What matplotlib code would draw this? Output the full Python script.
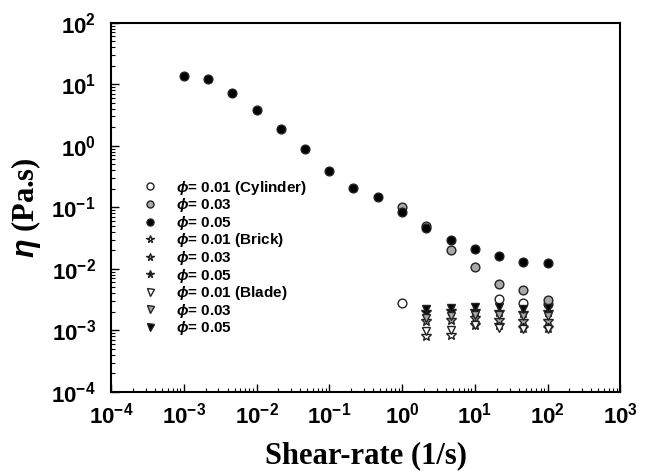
import numpy as np
import matplotlib
matplotlib.use("Agg")
import matplotlib.pyplot as plt
from matplotlib.ticker import FuncFormatter, LogLocator

plt.rcParams['font.family'] = ['Liberation Sans', 'DejaVu Sans']
plt.rcParams['mathtext.fontset'] = 'custom'
plt.rcParams['mathtext.rm'] = 'Liberation Sans:bold'
plt.rcParams['mathtext.bf'] = 'Liberation Sans:bold'
plt.rcParams['mathtext.it'] = 'Liberation Sans:italic:bold'
plt.rcParams['axes.unicode_minus'] = False

# shear rates (1/s)
rate_full = [1e-3, 2.15e-3, 4.64e-3, 1e-2, 2.15e-2, 4.64e-2, 0.1, 0.215, 0.464,
             1, 2.15, 4.64, 10, 21.5, 46.4, 100]
rate_hi = [2.15, 4.64, 10, 21.5, 46.4, 100]

# cylinder
cyl05 = [13.7, 12.3, 7.3, 3.85, 1.89, 0.89, 0.39, 0.21, 0.145,
         0.085, 0.047, 0.030, 0.021, 0.016, 0.013, 0.0123]
cyl03_rate = [1, 2.15, 4.64, 10, 21.5, 46.4, 100]
cyl03 = [0.10, 0.050, 0.0205, 0.0107, 0.0057, 0.0046, 0.0031]
cyl01_rate = [1, 21.5, 46.4, 100]
cyl01 = [0.0028, 0.0032, 0.0028, 0.0027]

# brick
brick01 = [0.00080, 0.00085, 0.0012, 0.0012, 0.0011, 0.0011]
brick03 = [0.0014, 0.0015, 0.0016, 0.0015, 0.0014, 0.0014]
brick05 = [0.0020, 0.0021, 0.0021, 0.0020, 0.0019, 0.0020]

# blade
blade01 = [0.00098, 0.0010, 0.0012, 0.0011, 0.00105, 0.00105]
blade03 = [0.0016, 0.0017, 0.0018, 0.0018, 0.0017, 0.0017]
blade05 = [0.0022, 0.0023, 0.0024, 0.0024, 0.0022, 0.0023]

white, grey, black = 'white', '#a8a8a8', 'black'
edge = '#222222'

series = [
    (cyl01_rate, cyl01, 'o', white, 6.3, '$\\phi$= 0.01 (Cylinder)'),
    (cyl03_rate, cyl03, 'o', grey, 6.3, '$\\phi$= 0.03'),
    (rate_full, cyl05, 'o', black, 6.3, '$\\phi$= 0.05'),
    (rate_hi, brick01, '*', white, 7, '$\\phi$= 0.01 (Brick)'),
    (rate_hi, brick03, '*', grey, 7, '$\\phi$= 0.03'),
    (rate_hi, brick05, '*', black, 7, '$\\phi$= 0.05'),
    (rate_hi, blade01, 'v', white, 6.3, '$\\phi$= 0.01 (Blade)'),
    (rate_hi, blade03, 'v', grey, 6.3, '$\\phi$= 0.03'),
    (rate_hi, blade05, 'v', black, 6.3, '$\\phi$= 0.05'),
]

fig = plt.figure(figsize=(6.53, 4.75), dpi=100)
ax = fig.add_axes([0.170, 0.175, 0.780, 0.777])

for x, y, m, fc, ms, lab in series:
    ax.plot(x, y, linestyle='none', marker=m, markerfacecolor=fc,
            markeredgecolor=edge, markeredgewidth=1.0, markersize=ms, label=lab)

ax.set_xscale('log')
ax.set_yscale('log')
ax.set_xlim(1e-4, 1e3)
ax.set_ylim(1e-4, 1e2)

fmt = FuncFormatter(lambda v, p: '$\\mathbf{10^{%d}}$' % int(round(np.log10(v))))
ax.xaxis.set_major_locator(LogLocator(base=10, numticks=20))
ax.yaxis.set_major_locator(LogLocator(base=10, numticks=20))
ax.xaxis.set_minor_locator(LogLocator(base=10, subs=np.arange(2, 10), numticks=20))
ax.yaxis.set_minor_locator(LogLocator(base=10, subs=np.arange(2, 10), numticks=20))
ax.xaxis.set_major_formatter(fmt)
ax.yaxis.set_major_formatter(fmt)
ax.tick_params(which='both', direction='in', top=False, right=False)
ax.tick_params(which='major', length=6, width=1, labelsize=16)
ax.tick_params(which='minor', length=3, width=0.8)
ax.tick_params(axis='x', pad=8)
ax.tick_params(axis='y', pad=11)
for s in ax.spines.values():
    s.set_linewidth(1.5)

ax.set_xlabel('Shear-rate (1/s)', family='Liberation Serif', fontweight='bold',
              fontsize=22, labelpad=9)
ax.set_ylabel('$\\eta$ (Pa.s)', family='Liberation Serif', fontweight='bold',
              fontsize=22, labelpad=6)

leg = ax.legend(loc='upper left', bbox_to_anchor=(0.047, 0.598), frameon=False,
                borderpad=0, handlelength=1.0, handletextpad=1.2, markerscale=0.8,
                labelspacing=-0.03, prop={'weight': 'bold', 'size': 11})

fig.savefig('out.png', dpi=100)
